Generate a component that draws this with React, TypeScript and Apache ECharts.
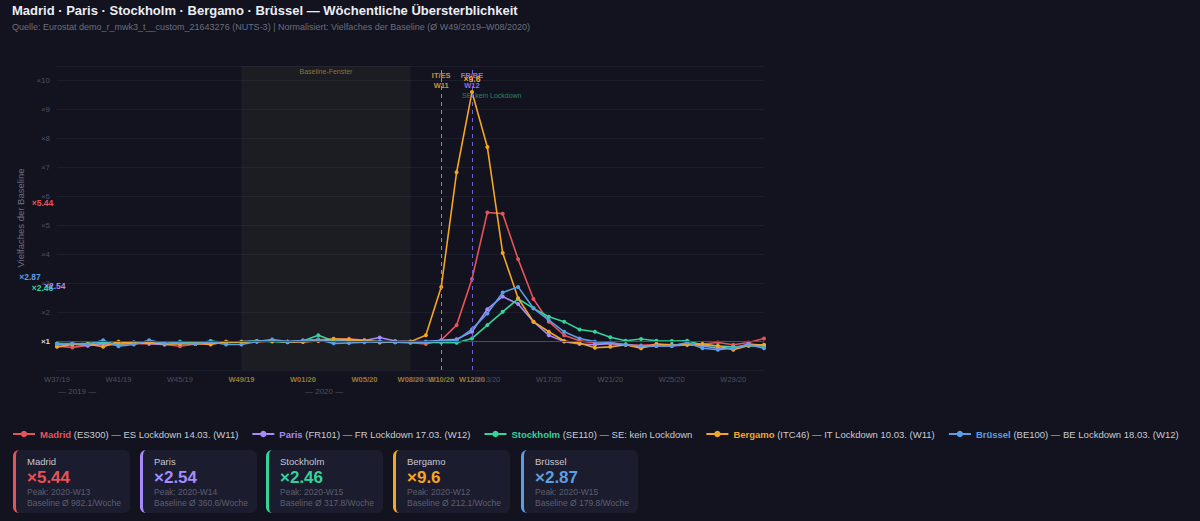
import React, { useEffect, useRef } from "react";
import * as echarts from "echarts";

const WEEKS = [
  "W37/19", "W38/19", "W39/19", "W40/19", "W41/19", "W42/19", "W43/19", "W44/19",
  "W45/19", "W46/19", "W47/19", "W48/19", "W49/19", "W50/19", "W51/19", "W52/19",
  "W01/20", "W02/20", "W03/20", "W04/20", "W05/20", "W06/20", "W07/20", "W08/20",
  "W09/20", "W10/20", "W11/20", "W12/20", "W13/20", "W14/20", "W15/20", "W16/20",
  "W17/20", "W18/20", "W19/20", "W20/20", "W21/20", "W22/20", "W23/20", "W24/20",
  "W25/20", "W26/20", "W27/20", "W28/20", "W29/20", "W30/20", "W31/20",
];

const MADRID = [
  0.82, 0.78, 0.85, 0.88, 0.86, 0.92, 0.9, 0.88, 0.82, 0.9, 0.92, 0.95, 0.96, 0.98, 1.0, 0.97,
  1.02, 1.05, 1.06, 1.08, 1.03, 0.98, 0.96, 0.94, 0.9, 1.03, 1.55, 3.14, 5.44, 5.4, 3.83, 2.45,
  1.67, 1.2, 1.01, 0.93, 0.9, 0.88, 0.85, 0.88, 0.86, 0.9, 0.9, 0.95, 0.87, 0.95, 1.09,
];
const PARIS = [
  0.88, 0.9, 0.84, 0.92, 0.9, 0.96, 0.92, 0.88, 0.93, 0.9, 0.94, 0.96, 0.98, 1.0, 1.02, 0.96,
  0.98, 1.02, 1.0, 1.04, 1.02, 1.12, 1.0, 0.98, 0.98, 1.03, 1.06, 1.32, 2.1, 2.54, 2.28, 1.67,
  1.2, 0.98, 0.9, 0.87, 0.92, 0.87, 0.8, 0.83, 0.83, 0.87, 0.83, 0.75, 0.75, 0.9, 0.85,
];
const STOCKHOLM = [
  0.92, 0.9, 0.92, 0.95, 0.9, 0.93, 0.95, 0.9, 0.98, 0.92, 1.0, 0.95, 0.97, 1.0, 0.98, 0.97,
  1.0, 1.2, 1.0, 0.98, 1.0, 0.98, 0.96, 0.95, 0.96, 0.95, 0.94, 1.09, 1.55, 2.01, 2.46, 2.13,
  1.84, 1.67, 1.4, 1.32, 1.13, 1.01, 1.07, 1.01, 1.0, 1.01, 0.86, 0.83, 0.8, 0.83, 0.83,
];
const BERGAMO = [
  0.8, 0.88, 0.9, 0.8, 0.98, 0.92, 0.95, 0.9, 0.9, 0.92, 0.88, 0.98, 0.96, 0.98, 1.0, 0.98,
  0.97, 1.0, 1.08, 1.05, 1.02, 0.95, 0.97, 0.98, 1.2, 2.87, 6.83, 9.6, 7.7, 4.04, 2.48, 1.67,
  1.32, 1.0, 0.93, 0.77, 0.8, 0.87, 0.75, 0.9, 0.87, 0.87, 0.9, 0.83, 0.7, 0.85, 0.87,
];
const BRUSSEL = [
  0.9, 0.92, 0.88, 1.03, 0.82, 0.88, 1.03, 0.92, 0.95, 0.9, 0.98, 0.88, 0.88, 0.98, 1.05, 0.98,
  1.02, 1.05, 0.92, 0.93, 0.96, 0.98, 0.97, 0.96, 0.97, 1.0, 1.02, 1.41, 1.95, 2.68, 2.87, 2.13,
  1.72, 1.32, 1.09, 0.98, 0.95, 0.87, 0.83, 0.83, 0.83, 0.95, 0.75, 0.7, 0.75, 0.87, 0.75,
];

const SERIES_DATA = [MADRID, PARIS, STOCKHOLM, BERGAMO, BRUSSEL];
const CITIES = ["Madrid", "Paris", "Stockholm", "Bergamo", "Brüssel"];
const CODES = ["ES300", "FR101", "SE110", "ITC46", "BE100"];
const NOTES = [
  "ES Lockdown 14.03. (W11)",
  "FR Lockdown 17.03. (W12)",
  "SE: kein Lockdown",
  "IT Lockdown 10.03. (W11)",
  "BE Lockdown 18.03. (W12)",
];
const COLORS = ["#e5535a", "#a78bfa", "#34d399", "#f5a524", "#5b9ee6"];
const PEAKS = [5.44, 2.54, 2.46, 9.6, 2.87];
const PEAK_WEEKS = ["2020-W13", "2020-W14", "2020-W15", "2020-W12", "2020-W15"];
const BASELINES = [982.1, 360.6, 317.8, 212.1, 179.8];

const GOLD_LABELS = ["W49/19", "W01/20", "W05/20", "W08/20", "W10/20", "W12/20"];
const EXTRA_LABELS = ["W08/20", "W10/20", "W12/20"];
const BASELINE_START = "W49/19";
const BASELINE_END = "W08/20";
const LOCKDOWN_A = "W10/20";
const LOCKDOWN_B = "W12/20";

// label offsets for peak markers at left edge (px)
const LEFT_MARK_OFFSETS: (number[] | null)[] = [[-14.5, -9.5], [-2.3, -10.3], [-14.5, -10.4], null, [-27, -10]];

const FONT = '"Liberation Sans", Arial, Helvetica, sans-serif';
const BG = "#12131e";

function App() {
  const ref = useRef<HTMLDivElement>(null);

  useEffect(() => {
    document.body.style.margin = "0";
    document.body.style.background = BG;
    if (!ref.current) return;
    const chart = echarts.init(ref.current, null, { renderer: "svg" });

    const idxA = WEEKS.indexOf(LOCKDOWN_A);
    const idxB = WEEKS.indexOf(LOCKDOWN_B);

    const textPoint = (coord: any[], text: string, label: any) => ({
      coord,
      symbol: "circle",
      symbolSize: 1,
      itemStyle: { color: "rgba(0,0,0,0)" },
      label: { show: true, position: "inside", formatter: text, fontFamily: FONT, ...label },
    });

    const series = SERIES_DATA.map((data, i) => {
      const marks: any[] = [];
      const off = LEFT_MARK_OFFSETS[i];
      if (off) {
        marks.push(
          textPoint([0, PEAKS[i]], "×" + PEAKS[i], {
            color: COLORS[i],
            fontSize: 8.5,
            fontWeight: "bold",
            offset: off,
          })
        );
      }
      if (i === 3) {
        const pi = data.indexOf(PEAKS[i]);
        marks.push(
          textPoint([pi, PEAKS[i]], "×" + PEAKS[i], {
            color: COLORS[i],
            fontSize: 8.5,
            fontWeight: "bold",
            offset: [0, -13],
          })
        );
      }
      if (i === 0) {
        marks.push(
          textPoint([idxA, 10.0], "IT/ES\nW11", {
            color: "#c8953a",
            fontSize: 7.5,
            fontWeight: "bold",
            lineHeight: 9.5,
          })
        );
        marks.push(
          textPoint([idxB, 10.0], "FR/BE\nW12", {
            color: "#8a72e8",
            fontSize: 7.5,
            fontWeight: "bold",
            lineHeight: 9.5,
          })
        );
      }
      if (i === 2) {
        marks.push(
          textPoint([idxB, 9.5], "SE: kein Lockdown", {
            color: "#2a8466",
            fontSize: 7,
            align: "left",
            offset: [-10, 1],
          })
        );
      }
      const s: any = {
        name: CITIES[i],
        type: "line",
        data,
        color: COLORS[i],
        lineStyle: { width: 1.6, color: COLORS[i] },
        itemStyle: { color: COLORS[i] },
        symbol: "circle",
        symbolSize: 4,
        showSymbol: true,
        z: 3,
        emphasis: { disabled: true },
        markPoint: marks.length ? { silent: true, z: 10, data: marks } : undefined,
      };
      if (i === 0) {
        s.markArea = {
          silent: true,
          itemStyle: { color: "rgba(255,225,170,0.045)" },
          label: {
            show: true,
            position: "insideTop",
            distance: 2,
            color: "#8c7436",
            fontSize: 7,
            fontFamily: FONT,
          },
          data: [[{ xAxis: BASELINE_START, name: "Baseline-Fenster" }, { xAxis: BASELINE_END }]],
        };
        s.markLine = {
          silent: true,
          symbol: ["none", "none"],
          label: { show: false },
          data: [
            { yAxis: 1, lineStyle: { color: "#4a4d62", type: "solid", width: 1 } },
            { xAxis: LOCKDOWN_A, lineStyle: { color: "#c08a30", type: [4, 4], width: 1 } },
            { xAxis: LOCKDOWN_B, lineStyle: { color: "#7060d8", type: [4, 4], width: 1 } },
          ],
        };
      }
      return s;
    });

    const rich: any = {};
    CITIES.forEach((c, i) => {
      rich["c" + i] = { color: COLORS[i], fontWeight: "bold", fontSize: 9.5, fontFamily: FONT };
    });

    chart.setOption({
      animation: false,
      backgroundColor: BG,
      textStyle: { fontFamily: FONT },
      title: {
        text: "Madrid · Paris · Stockholm · Bergamo · Brüssel — Wöchentliche Übersterblichkeit",
        subtext:
          "Quelle: Eurostat demo_r_mwk3_t__custom_21643276 (NUTS-3) | Normalisiert: Vielfaches der Baseline (Ø W49/2019–W08/2020)",
        left: 12,
        top: 4,
        itemGap: 5,
        padding: 0,
        textStyle: { color: "#eceef5", fontSize: 13, fontWeight: "bold", fontFamily: FONT },
        subtextStyle: { color: "#6b6e7e", fontSize: 9, fontFamily: FONT },
      },
      legend: {
        left: 12,
        top: 429,
        width: 1188,
        padding: 0,
        itemGap: 13,
        itemWidth: 22,
        itemHeight: 8,
        data: CITIES,
        selectedMode: false,
        formatter: (name: string) => {
          const i = CITIES.indexOf(name);
          return `{c${i}|${name}} (${CODES[i]}) — ${NOTES[i]}`;
        },
        textStyle: { color: "#c9cbd4", fontSize: 9.5, fontFamily: FONT, rich },
      },
      grid: { left: 57, right: 436, top: 66, bottom: 75 },
      xAxis: {
        type: "category",
        data: WEEKS,
        boundaryGap: false,
        axisLine: { show: false },
        axisTick: { show: false },
        splitLine: { show: false },
        axisLabel: {
          interval: (i: number, v: string) => i % 4 === 0 || EXTRA_LABELS.includes(v),
          color: "#4d5061",
          fontSize: 7.5,
          margin: 5,
          fontFamily: FONT,
          formatter: (v: string) => (GOLD_LABELS.includes(v) ? `{g|${v}}` : v),
          rich: { g: { color: "#9a7a2e", fontWeight: "bold", fontSize: 7.5, fontFamily: FONT } },
        },
      },
      yAxis: {
        type: "value",
        min: 0,
        max: 10.5,
        interval: 1,
        name: "Vielfaches der Baseline",
        nameLocation: "middle",
        nameGap: 31,
        nameTextStyle: { color: "#6e7080", fontSize: 9.5, fontFamily: FONT },
        axisLine: { show: false },
        axisTick: { show: false },
        splitLine: { lineStyle: { color: "#1d1e2c", width: 1 } },
        axisLabel: {
          color: "#4d5061",
          fontSize: 8,
          margin: 7,
          fontFamily: FONT,
          formatter: (v: number) => (v === 0 || v > 10 ? "" : v === 1 ? "{w|×1}" : "×" + v),
          rich: { w: { color: "#d8d9e0", fontWeight: "bold", fontSize: 8, fontFamily: FONT } },
        },
      },
      graphic: [
        {
          type: "text",
          left: 58,
          top: 387,
          style: { text: "— 2019 —", fill: "#4d5061", fontSize: 8, fontFamily: FONT },
        },
        {
          type: "text",
          left: 305,
          top: 387,
          style: { text: "— 2020 —", fill: "#4d5061", fontSize: 8, fontFamily: FONT },
        },
      ],
      series,
    });

    return () => chart.dispose();
  }, []);

  const cardLefts = [13, 140, 266, 393, 521];

  return (
    <div
      style={{
        position: "relative",
        width: 1200,
        height: 521,
        background: BG,
        overflow: "hidden",
        fontFamily: FONT,
      }}
    >
      <div ref={ref} style={{ position: "absolute", left: 0, top: 0, width: 1200, height: 445 }} />
      {CITIES.map((c, i) => (
        <div
          key={c}
          style={{
            position: "absolute",
            left: cardLefts[i],
            top: 450,
            width: 117,
            height: 63,
            boxSizing: "border-box",
            background: "#1b1c2e",
            borderRadius: 6,
            borderLeft: `3px solid ${COLORS[i]}`,
            padding: "5px 0 0 11px",
          }}
        >
          <div style={{ fontSize: 9.5, lineHeight: "13px", color: "#c5c7d2" }}>{c}</div>
          <div style={{ fontSize: 17, lineHeight: "19px", fontWeight: "bold", color: COLORS[i] }}>
            ×{PEAKS[i]}
          </div>
          <div style={{ fontSize: 8.5, lineHeight: "11px", color: "#5c5f70" }}>Peak: {PEAK_WEEKS[i]}</div>
          <div style={{ fontSize: 8.5, lineHeight: "11px", color: "#5c5f70" }}>
            Baseline Ø {BASELINES[i].toFixed(1)}/Woche
          </div>
        </div>
      ))}
    </div>
  );
}

export default App;
